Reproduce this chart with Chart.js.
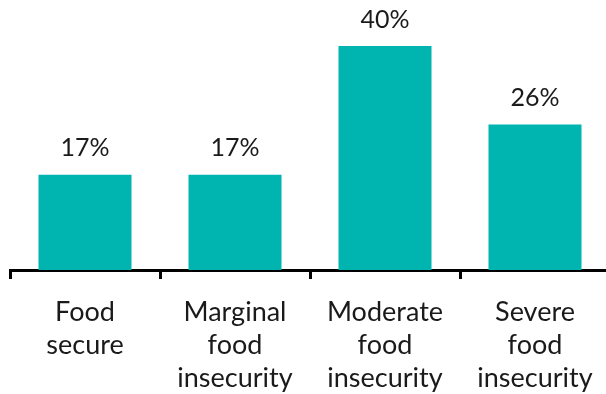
<!DOCTYPE html>
<html>
<head>
<meta charset="utf-8">
<script src="https://cdn.jsdelivr.net/npm/chart.js@4"></script>
<style>
  html, body { margin: 0; padding: 0; background: #fff; overflow: hidden; }
  canvas { display: block; }
</style>
</head>
<body>
<canvas id="foodChart" width="610" height="394"></canvas>
<script>
// data
const categories = [
    ["Food", "secure"],
    ["Marginal", "food", "insecurity"],
    ["Moderate", "food", "insecurity"],
    ["Severe", "food", "insecurity"]
];
const shares = [17, 17, 40, 26];

const FONT = "Lato, 'Open Sans', sans-serif";

// percent labels sitting above each bar
const valueLabels = {
    id: "valueLabels",
    afterDatasetsDraw(chart) {
        const ctx = chart.ctx;
        const meta = chart.getDatasetMeta(0);
        ctx.save();
        ctx.font = "25px " + FONT;
        ctx.fillStyle = "#1a1a1a";
        ctx.textAlign = "center";
        ctx.textBaseline = "bottom";
        meta.data.forEach((bar, i) => {
            ctx.fillText(shares[i] + "%", bar.x, bar.y - 14);
        });
        ctx.restore();
    }
};

new Chart(document.getElementById("foodChart"), {
    type: "bar",
    data: {
        labels: categories,
        datasets: [{
            data: shares,
            backgroundColor: "#00b4b0",
            categoryPercentage: 1,
            barPercentage: 0.62
        }]
    },
    options: {
        responsive: false,
        animation: false,
        layout: { padding: { top: 18, left: 10, right: 0, bottom: 0 } },
        plugins: { legend: { display: false }, tooltip: { enabled: false } },
        scales: {
            y: { display: false, min: 0, max: 45 },
            x: {
                afterFit: (s) => { s.height = 124; },
                border: { display: true, color: "#000", width: 3 },
                grid: {
                    offset: true,
                    drawOnChartArea: false,
                    drawTicks: true,
                    tickLength: 9,
                    tickWidth: 3,
                    color: "#000"
                },
                ticks: {
                    color: "#1a1a1a",
                    font: { family: FONT, size: 27, lineHeight: 1.22 },
                    padding: 17,
                    maxRotation: 0,
                    autoSkip: false
                }
            }
        }
    },
    plugins: [valueLabels]
});
</script>
</body>
</html>
